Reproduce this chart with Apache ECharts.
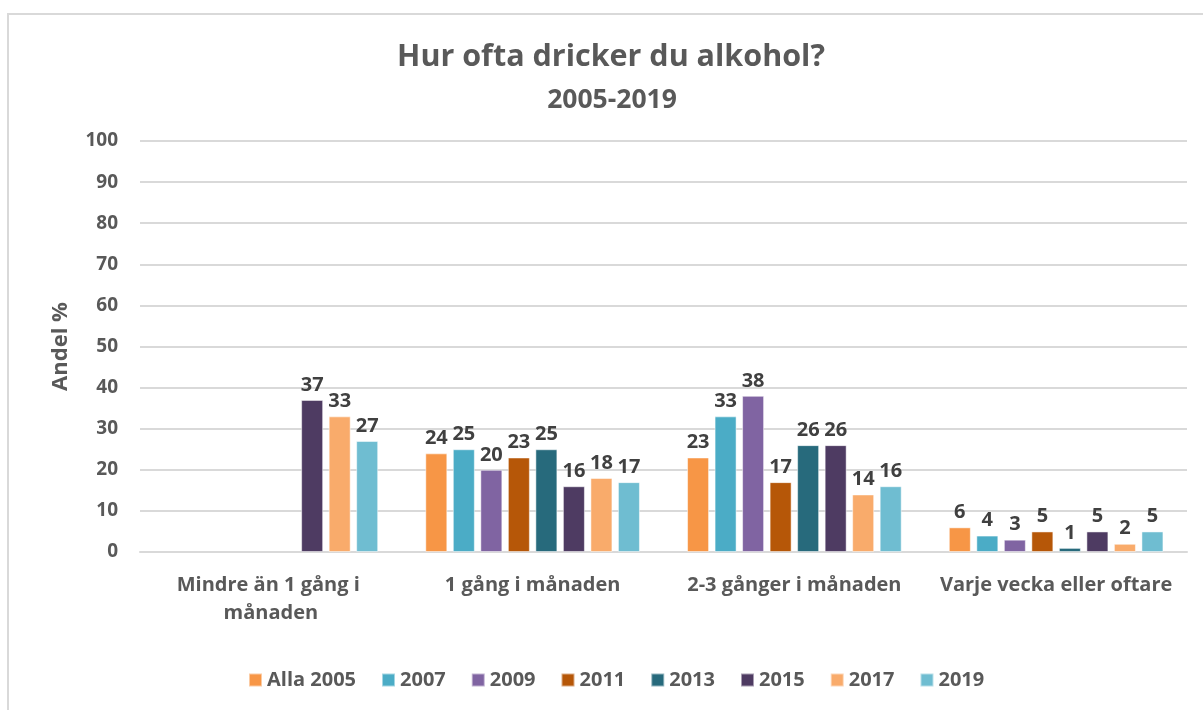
<!DOCTYPE html>
<html><head><meta charset="utf-8">
<script src="https://cdn.jsdelivr.net/npm/echarts@6/dist/echarts.min.js"></script>
<style>html,body{margin:0;padding:0;background:#fff}#c{width:1203px;height:710px}</style>
</head><body><div id="c"></div>
<script>
const categories = ['Mindre än 1 gång i månaden', '1 gång i månaden', '2-3 gånger i månaden', 'Varje vecka eller oftare'];
const seriesNames = ['Alla 2005', '2007', '2009', '2011', '2013', '2015', '2017', '2019'];
const s2005 = [null, 24, 23, 6];
const s2007 = [null, 25, 33, 4];
const s2009 = [null, 20, 38, 3];
const s2011 = [null, 23, 17, 5];
const s2013 = [null, 25, 26, 1];
const s2015 = [37, 16, 26, 5];
const s2017 = [33, 18, 14, 2];
const s2019 = [27, 17, 16, 5];
const yTicks = [0, 10, 20, 30, 40, 50, 60, 70, 80, 90, 100];
const colors = ['#F79646', '#4BACC6', '#8064A2', '#B65708', '#276A7C', '#4E3B62', '#F9AB6B', '#6FBDD1'];
const allData = [s2005, s2007, s2009, s2011, s2013, s2015, s2017, s2019];
const FONT = 'Open Sans';
const chart = echarts.init(document.getElementById('c'));
chart.setOption({
  animation: false,
  color: colors,
  textStyle: {fontFamily: FONT},
  graphic: [{type: 'rect', shape: {x: 8, y: 14, width: 1300, height: 800}, style: {fill: 'none', stroke: '#D9D9D9', lineWidth: 2}, silent: true}],
  title: [{
    text: 'Hur ofta dricker du alkohol?',
    left: 606, textAlign: 'center', top: 37,
    textStyle: {fontFamily: FONT, fontSize: 30.5, fontWeight: 'bold', color: '#595959'}
  }, {
    text: '2005-2019',
    left: 607, textAlign: 'center', top: 82,
    textStyle: {fontFamily: FONT, fontSize: 26.5, fontWeight: 'bold', color: '#595959'}
  }],
  legend: {
    bottom: 15, left: 243, itemWidth: 13, itemHeight: 13, itemGap: 25,
    icon: 'rect',
    textStyle: {fontFamily: FONT, fontSize: 20, fontWeight: 'bold', color: '#595959'},
    data: seriesNames
  },
  grid: {left: 140, right: 16, top: 141, bottom: 158},
  xAxis: {
    type: 'category', data: categories,
    axisLine: {lineStyle: {color: '#D9D9D9', width: 2}},
    axisTick: {show: false},
    axisLabel: {fontFamily: FONT, fontSize: 20, fontWeight: 'bold', color: '#595959', margin: 19, width: 250, overflow: 'break', lineHeight: 28, interval: 0}
  },
  yAxis: {
    type: 'value', min: yTicks[0], max: yTicks[yTicks.length - 1], interval: 10,
    name: 'Andel %', nameLocation: 'middle', nameGap: 68, nameRotate: 90,
    nameTextStyle: {fontFamily: FONT, fontSize: 22, fontWeight: 'bold', color: '#595959'},
    axisLine: {show: false}, axisTick: {show: false},
    axisLabel: {fontFamily: FONT, fontSize: 19, fontWeight: 'bold', color: '#595959', margin: 22},
    splitLine: {lineStyle: {color: '#D9D9D9', width: 2}}
  },
  series: seriesNames.map((n, i) => ({
    name: n, type: 'bar', data: allData[i],
    barGap: '25%', barCategoryGap: '18%',
    itemStyle: {borderColor: 'rgba(255,255,255,0.5)', borderWidth: 1},
    label: {show: true, position: 'top', distance: 5, fontFamily: FONT, fontSize: 20, fontWeight: 'bold', color: '#404040'}
  }))
});
</script></body></html>
